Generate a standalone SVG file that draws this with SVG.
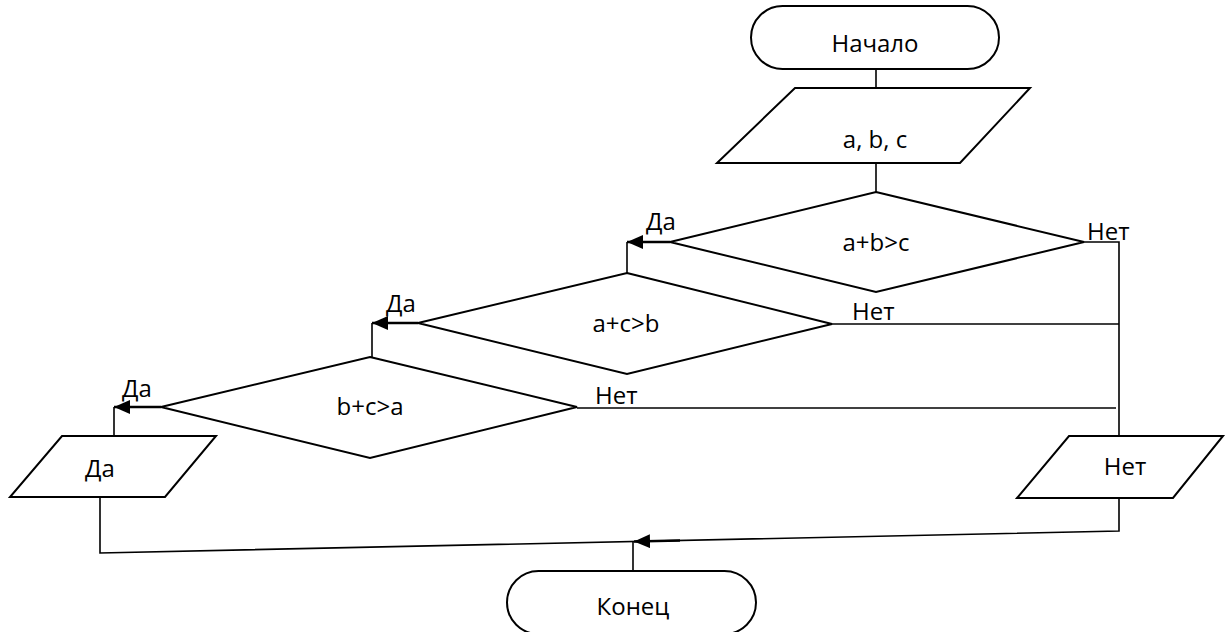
<svg xmlns="http://www.w3.org/2000/svg" width="1229" height="632" viewBox="0 0 1229 632">
<style>
.shape{fill:#fff;stroke:#000;stroke-width:2}
.ln{fill:none;stroke:#000;stroke-width:1.6}
.arr{fill:none;stroke:#000;stroke-width:2.6}
text{font-family:"Open Sans","Liberation Sans",sans-serif;font-size:24px;fill:#000}
.c{text-anchor:middle}
</style>
<defs>
<marker id="ah" markerUnits="userSpaceOnUse" markerWidth="16" markerHeight="14" refX="16" refY="7" orient="auto">
<path d="M0,0 L16,7 L0,14 z" fill="#000"/>
</marker>
</defs>
<rect width="1229" height="632" fill="#fff"/>
<g id="connectors">
<path class="ln" d="M876,69 V88"/>
<path class="ln" d="M876,163 V192"/>
<path class="arr" d="M670,242 H627" marker-end="url(#ah)"/>
<path class="ln" d="M627,242 V273"/>
<path class="arr" d="M418,323 H372" marker-end="url(#ah)"/>
<path class="ln" d="M372,323 V357"/>
<path class="arr" d="M161,407 H114" marker-end="url(#ah)"/>
<path class="ln" d="M114,407 V436"/>
<path class="ln" d="M1084,242 H1119 V436"/>
<path class="ln" d="M832,324 H1119"/>
<path class="ln" d="M577,408 H1116"/>
<path class="ln" d="M100,497 V553 L1119,531 V498"/>
<path class="arr" d="M680,540.5 L634,541.5" marker-end="url(#ah)"/>
<path class="ln" d="M633,541 V571"/>
<text x="646" y="230">Да</text>
<text x="1087" y="240">Нет</text>
<text x="386" y="312">Да</text>
<text x="852" y="320">Нет</text>
<text x="122" y="397">Да</text>
<text x="595" y="404">Нет</text>
</g>
<g id="start">
<rect class="shape" x="751" y="6" width="248" height="63" rx="31.5" ry="31.5"/>
<text class="c" x="875" y="52">Начало</text>
</g>
<g id="input">
<polygon class="shape" points="795,88 1030,88 960,163 717,163"/>
<text class="c" x="875" y="148">a, b, c</text>
</g>
<g id="cond1">
<polygon class="shape" points="876,192 1084,242 876,292 670,242"/>
<text class="c" x="876" y="251">a+b&gt;c</text>
</g>
<g id="cond2">
<polygon class="shape" points="627,273 832,324 627,374 418,323"/>
<text class="c" x="626" y="332">a+c&gt;b</text>
</g>
<g id="cond3">
<polygon class="shape" points="370,357 577,407 370,458 161,407"/>
<text class="c" x="370" y="415">b+c&gt;a</text>
</g>
<g id="outYes">
<polygon class="shape" points="62,436 216,436 165,497 10,497"/>
<text class="c" x="100" y="477">Да</text>
</g>
<g id="outNo">
<polygon class="shape" points="1069,436 1223,436 1173,498 1017,498"/>
<text class="c" x="1125" y="475">Нет</text>
</g>
<g id="end">
<rect class="shape" x="507" y="571" width="249" height="63" rx="31.5" ry="31.5"/>
<text class="c" x="633" y="615">Конец</text>
</g>
</svg>
